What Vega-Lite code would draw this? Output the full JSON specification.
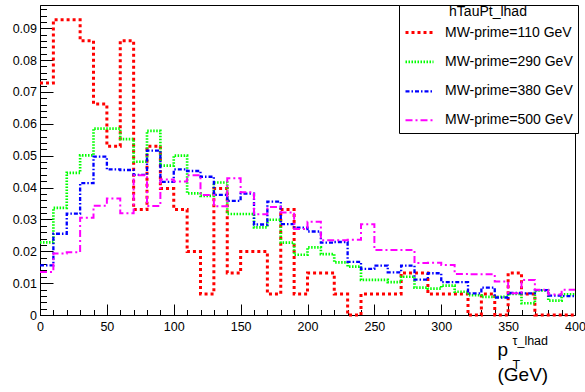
{
"$schema": "https://vega.github.io/schema/vega-lite/v6.json",
"width": 535, "height": 310,
"autosize": {"type": "none"},
"padding": {"left": 40, "top": 5, "right": 10, "bottom": 77},
"background": "white",
"config": {
  "font": "Liberation Sans",
  "view": {"stroke": "black", "strokeWidth": 1},
  "axis": {"domainColor": "black", "tickColor": "black", "labelColor": "black", "titleColor": "black", "grid": false, "labelFont": "Liberation Sans", "titleFont": "Liberation Sans", "titleFontWeight": "normal", "labelFontSize": 12.5},
  "legend": {"orient": "none", "legendX": 359, "legendY": 0, "titleAnchor": "middle", "titleFontSize": 14, "titleFontWeight": "normal", "titleColor": "black", "titleBaseline": "line-top", "titleLineHeight": 4, "labelFontSize": 14, "labelColor": "black", "symbolType": "stroke", "symbolSize": 784, "labelOffset": 10, "rowPadding": 6.4, "padding": 5, "strokeColor": "black", "fillColor": "white", "titlePadding": -7, "labelLimit": 300, "titleLimit": 300}
},
"data": {"values": [
{"s":"MW-prime=110 GeV","x":0,"y":0.0728},{"s":"MW-prime=110 GeV","x":10,"y":0.0927},{"s":"MW-prime=110 GeV","x":20,"y":0.0927},{"s":"MW-prime=110 GeV","x":30,"y":0.0861},{"s":"MW-prime=110 GeV","x":40,"y":0.0662},{"s":"MW-prime=110 GeV","x":50,"y":0.053},{"s":"MW-prime=110 GeV","x":60,"y":0.0861},{"s":"MW-prime=110 GeV","x":70,"y":0.0331},{"s":"MW-prime=110 GeV","x":80,"y":0.053},{"s":"MW-prime=110 GeV","x":90,"y":0.0397},{"s":"MW-prime=110 GeV","x":100,"y":0.0331},{"s":"MW-prime=110 GeV","x":110,"y":0.0199},{"s":"MW-prime=110 GeV","x":120,"y":0.0066},{"s":"MW-prime=110 GeV","x":130,"y":0.0397},{"s":"MW-prime=110 GeV","x":140,"y":0.0132},{"s":"MW-prime=110 GeV","x":150,"y":0.0199},{"s":"MW-prime=110 GeV","x":160,"y":0.0199},{"s":"MW-prime=110 GeV","x":170,"y":0.0066},{"s":"MW-prime=110 GeV","x":180,"y":0.0331},{"s":"MW-prime=110 GeV","x":190,"y":0.0066},{"s":"MW-prime=110 GeV","x":200,"y":0.0132},{"s":"MW-prime=110 GeV","x":210,"y":0.0132},{"s":"MW-prime=110 GeV","x":220,"y":0.0066},{"s":"MW-prime=110 GeV","x":230,"y":0},{"s":"MW-prime=110 GeV","x":240,"y":0.0066},{"s":"MW-prime=110 GeV","x":250,"y":0.0066},{"s":"MW-prime=110 GeV","x":260,"y":0.0066},{"s":"MW-prime=110 GeV","x":270,"y":0.0132},{"s":"MW-prime=110 GeV","x":280,"y":0.0132},{"s":"MW-prime=110 GeV","x":290,"y":0.0066},{"s":"MW-prime=110 GeV","x":300,"y":0.0066},{"s":"MW-prime=110 GeV","x":310,"y":0.0066},{"s":"MW-prime=110 GeV","x":320,"y":0},{"s":"MW-prime=110 GeV","x":330,"y":0.0066},{"s":"MW-prime=110 GeV","x":340,"y":0},{"s":"MW-prime=110 GeV","x":350,"y":0.0132},{"s":"MW-prime=110 GeV","x":360,"y":0.0066},{"s":"MW-prime=110 GeV","x":370,"y":0},{"s":"MW-prime=110 GeV","x":380,"y":0},{"s":"MW-prime=110 GeV","x":390,"y":0},{"s":"MW-prime=110 GeV","x":400,"y":0},
{"s":"MW-prime=290 GeV","x":0,"y":0.0228},{"s":"MW-prime=290 GeV","x":10,"y":0.0336},{"s":"MW-prime=290 GeV","x":20,"y":0.0446},{"s":"MW-prime=290 GeV","x":30,"y":0.0501},{"s":"MW-prime=290 GeV","x":40,"y":0.0585},{"s":"MW-prime=290 GeV","x":50,"y":0.0585},{"s":"MW-prime=290 GeV","x":60,"y":0.0552},{"s":"MW-prime=290 GeV","x":70,"y":0.0481},{"s":"MW-prime=290 GeV","x":80,"y":0.0578},{"s":"MW-prime=290 GeV","x":90,"y":0.0469},{"s":"MW-prime=290 GeV","x":100,"y":0.05},{"s":"MW-prime=290 GeV","x":110,"y":0.0382},{"s":"MW-prime=290 GeV","x":120,"y":0.0374},{"s":"MW-prime=290 GeV","x":130,"y":0.0416},{"s":"MW-prime=290 GeV","x":140,"y":0.0317},{"s":"MW-prime=290 GeV","x":150,"y":0.0317},{"s":"MW-prime=290 GeV","x":160,"y":0.0275},{"s":"MW-prime=290 GeV","x":170,"y":0.0299},{"s":"MW-prime=290 GeV","x":180,"y":0.0227},{"s":"MW-prime=290 GeV","x":190,"y":0.0189},{"s":"MW-prime=290 GeV","x":200,"y":0.0212},{"s":"MW-prime=290 GeV","x":210,"y":0.0191},{"s":"MW-prime=290 GeV","x":220,"y":0.0165},{"s":"MW-prime=290 GeV","x":230,"y":0.0152},{"s":"MW-prime=290 GeV","x":240,"y":0.011},{"s":"MW-prime=290 GeV","x":250,"y":0.011},{"s":"MW-prime=290 GeV","x":260,"y":0.0103},{"s":"MW-prime=290 GeV","x":270,"y":0.012},{"s":"MW-prime=290 GeV","x":280,"y":0.0086},{"s":"MW-prime=290 GeV","x":290,"y":0.0083},{"s":"MW-prime=290 GeV","x":300,"y":0.0092},{"s":"MW-prime=290 GeV","x":310,"y":0.0073},{"s":"MW-prime=290 GeV","x":320,"y":0.0062},{"s":"MW-prime=290 GeV","x":330,"y":0.0057},{"s":"MW-prime=290 GeV","x":340,"y":0.0057},{"s":"MW-prime=290 GeV","x":350,"y":0.0066},{"s":"MW-prime=290 GeV","x":360,"y":0.0037},{"s":"MW-prime=290 GeV","x":370,"y":0.0077},{"s":"MW-prime=290 GeV","x":380,"y":0.0045},{"s":"MW-prime=290 GeV","x":390,"y":0.0065},{"s":"MW-prime=290 GeV","x":400,"y":0.0065},
{"s":"MW-prime=380 GeV","x":0,"y":0.0156},{"s":"MW-prime=380 GeV","x":10,"y":0.0255},{"s":"MW-prime=380 GeV","x":20,"y":0.0318},{"s":"MW-prime=380 GeV","x":30,"y":0.0414},{"s":"MW-prime=380 GeV","x":40,"y":0.0497},{"s":"MW-prime=380 GeV","x":50,"y":0.0457},{"s":"MW-prime=380 GeV","x":60,"y":0.0455},{"s":"MW-prime=380 GeV","x":70,"y":0.044},{"s":"MW-prime=380 GeV","x":80,"y":0.0516},{"s":"MW-prime=380 GeV","x":90,"y":0.0418},{"s":"MW-prime=380 GeV","x":100,"y":0.0457},{"s":"MW-prime=380 GeV","x":110,"y":0.0452},{"s":"MW-prime=380 GeV","x":120,"y":0.0434},{"s":"MW-prime=380 GeV","x":130,"y":0.0377},{"s":"MW-prime=380 GeV","x":140,"y":0.0358},{"s":"MW-prime=380 GeV","x":150,"y":0.0381},{"s":"MW-prime=380 GeV","x":160,"y":0.0284},{"s":"MW-prime=380 GeV","x":170,"y":0.0356},{"s":"MW-prime=380 GeV","x":180,"y":0.0285},{"s":"MW-prime=380 GeV","x":190,"y":0.0274},{"s":"MW-prime=380 GeV","x":200,"y":0.0262},{"s":"MW-prime=380 GeV","x":210,"y":0.0227},{"s":"MW-prime=380 GeV","x":220,"y":0.0229},{"s":"MW-prime=380 GeV","x":230,"y":0.0167},{"s":"MW-prime=380 GeV","x":240,"y":0.0145},{"s":"MW-prime=380 GeV","x":250,"y":0.0155},{"s":"MW-prime=380 GeV","x":260,"y":0.0134},{"s":"MW-prime=380 GeV","x":270,"y":0.0155},{"s":"MW-prime=380 GeV","x":280,"y":0.0111},{"s":"MW-prime=380 GeV","x":290,"y":0.0131},{"s":"MW-prime=380 GeV","x":300,"y":0.0103},{"s":"MW-prime=380 GeV","x":310,"y":0.0103},{"s":"MW-prime=380 GeV","x":320,"y":0.0068},{"s":"MW-prime=380 GeV","x":330,"y":0.0086},{"s":"MW-prime=380 GeV","x":340,"y":0.0055},{"s":"MW-prime=380 GeV","x":350,"y":0.0069},{"s":"MW-prime=380 GeV","x":360,"y":0.0068},{"s":"MW-prime=380 GeV","x":370,"y":0.0078},{"s":"MW-prime=380 GeV","x":380,"y":0.0061},{"s":"MW-prime=380 GeV","x":390,"y":0.0059},{"s":"MW-prime=380 GeV","x":400,"y":0.0059},
{"s":"MW-prime=500 GeV","x":0,"y":0.0135},{"s":"MW-prime=500 GeV","x":10,"y":0.0193},{"s":"MW-prime=500 GeV","x":20,"y":0.0197},{"s":"MW-prime=500 GeV","x":30,"y":0.0305},{"s":"MW-prime=500 GeV","x":40,"y":0.0343},{"s":"MW-prime=500 GeV","x":50,"y":0.0366},{"s":"MW-prime=500 GeV","x":60,"y":0.0319},{"s":"MW-prime=500 GeV","x":70,"y":0.0439},{"s":"MW-prime=500 GeV","x":80,"y":0.0342},{"s":"MW-prime=500 GeV","x":90,"y":0.0425},{"s":"MW-prime=500 GeV","x":100,"y":0.0419},{"s":"MW-prime=500 GeV","x":110,"y":0.0439},{"s":"MW-prime=500 GeV","x":120,"y":0.0377},{"s":"MW-prime=500 GeV","x":130,"y":0.0341},{"s":"MW-prime=500 GeV","x":140,"y":0.0429},{"s":"MW-prime=500 GeV","x":150,"y":0.0385},{"s":"MW-prime=500 GeV","x":160,"y":0.0316},{"s":"MW-prime=500 GeV","x":170,"y":0.0339},{"s":"MW-prime=500 GeV","x":180,"y":0.0322},{"s":"MW-prime=500 GeV","x":190,"y":0.027},{"s":"MW-prime=500 GeV","x":200,"y":0.0293},{"s":"MW-prime=500 GeV","x":210,"y":0.0235},{"s":"MW-prime=500 GeV","x":220,"y":0.0235},{"s":"MW-prime=500 GeV","x":230,"y":0.0236},{"s":"MW-prime=500 GeV","x":240,"y":0.0285},{"s":"MW-prime=500 GeV","x":250,"y":0.0204},{"s":"MW-prime=500 GeV","x":260,"y":0.0204},{"s":"MW-prime=500 GeV","x":270,"y":0.0204},{"s":"MW-prime=500 GeV","x":280,"y":0.0163},{"s":"MW-prime=500 GeV","x":290,"y":0.0164},{"s":"MW-prime=500 GeV","x":300,"y":0.0157},{"s":"MW-prime=500 GeV","x":310,"y":0.0129},{"s":"MW-prime=500 GeV","x":320,"y":0.0128},{"s":"MW-prime=500 GeV","x":330,"y":0.0128},{"s":"MW-prime=500 GeV","x":340,"y":0.0105},{"s":"MW-prime=500 GeV","x":350,"y":0.0068},{"s":"MW-prime=500 GeV","x":360,"y":0.011},{"s":"MW-prime=500 GeV","x":370,"y":0.0079},{"s":"MW-prime=500 GeV","x":380,"y":0.0064},{"s":"MW-prime=500 GeV","x":390,"y":0.0079},{"s":"MW-prime=500 GeV","x":400,"y":0.0079}
]},
"resolve": {"axis": {"x": "independent", "y": "independent"}},
"layer": [
  {
    "mark": {"type": "line", "interpolate": "step-after"},
    "encoding": {
      "x": {"field": "x", "type": "quantitative",
        "scale": {"domain": [0, 400], "nice": false, "zero": false},
        "axis": {"orient": "bottom", "values": [0,50,100,150,200,250,300,350,400], "tickSize": -11, "labelPadding": 16, "labelFlush": false, "labelOverlap": false, "format": "d",
          "title": ["p", "(GeV)"], "titleX": 457, "titleY": 40, "titleAlign": "left", "titleBaseline": "alphabetic", "titleFontSize": 19, "titleLineHeight": 25}},
      "y": {"field": "y", "type": "quantitative",
        "scale": {"domain": [0, 0.0973], "nice": false},
        "axis": {"orient": "left", "values": [0,0.01,0.02,0.03,0.04,0.05,0.06,0.07,0.08,0.09], "tickSize": -13, "labelPadding": 16.5, "labelFlush": false, "format": ".2~f", "title": null}},
      "color": {"field": "s", "type": "nominal", "title": "hTauPt_lhad",
        "scale": {"domain": ["MW-prime=110 GeV","MW-prime=290 GeV","MW-prime=380 GeV","MW-prime=500 GeV"], "range": ["#ff0000","#00ff00","#0000ff","#ff00ff"]}},
      "strokeDash": {"field": "s", "type": "nominal", "title": "hTauPt_lhad",
        "scale": {"domain": ["MW-prime=110 GeV","MW-prime=290 GeV","MW-prime=380 GeV","MW-prime=500 GeV"], "range": [[3,3],[1.5,1.5],[4,2,1.5,2],[7,3,2,3]]}},
      "strokeWidth": {"field": "s", "type": "nominal", "title": "hTauPt_lhad",
        "scale": {"domain": ["MW-prime=110 GeV","MW-prime=290 GeV","MW-prime=380 GeV","MW-prime=500 GeV"], "range": [3,2,2.5,3]}}
    }
  },
  {
    "mark": {"type": "line", "interpolate": "step-after", "strokeOpacity": 0},
    "encoding": {
      "x": {"field": "x", "type": "quantitative",
        "axis": {"orient": "bottom", "values": [0,10,20,30,40,50,60,70,80,90,100,110,120,130,140,150,160,170,180,190,200,210,220,230,240,250,260,270,280,290,300,310,320,330,340,350,360,370,380,390,400], "tickSize": -5.5, "labels": false, "domain": false,
          "title": ["τ_lhad", "T"], "titleX": 472, "titleY": 29, "titleAlign": "left", "titleBaseline": "alphabetic", "titleFontSize": 12.5, "titleLineHeight": 24}},
      "y": {"field": "y", "type": "quantitative",
        "axis": {"orient": "left", "values": [0.002,0.004,0.006,0.008,0.012,0.014,0.016,0.018,0.022,0.024,0.026,0.028,0.032,0.034,0.036,0.038,0.042,0.044,0.046,0.048,0.052,0.054,0.056,0.058,0.062,0.064,0.066,0.068,0.072,0.074,0.076,0.078,0.082,0.084,0.086,0.088,0.092,0.094,0.096], "tickSize": -6.5, "labels": false, "domain": false, "title": null}},
      "detail": {"field": "s"}
    }
  }
]
}
